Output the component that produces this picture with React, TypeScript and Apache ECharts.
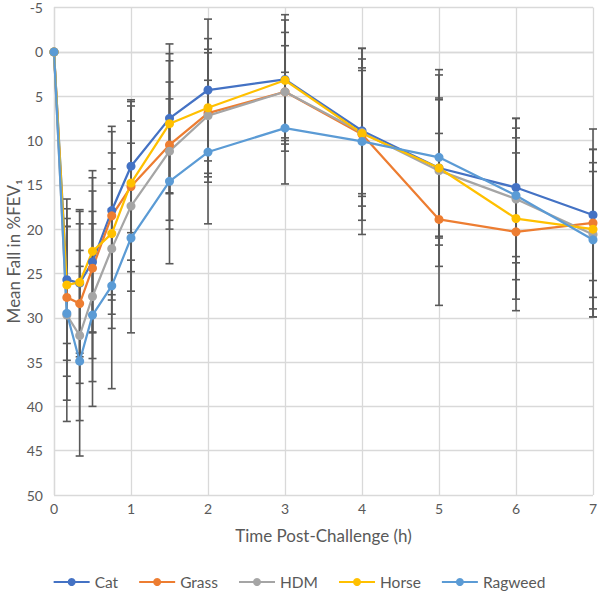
import React, { useEffect, useRef } from "react";
import * as echarts from "echarts";

const times = [0, 1 / 6, 1 / 3, 0.5, 0.75, 1, 1.5, 2, 3, 4, 5, 6, 7];
const seriesNames = ["Cat", "Grass", "HDM", "Horse", "Ragweed"];
const colors = ["#4472C4", "#ED7D31", "#A5A5A5", "#FFC000", "#5B9BD5"];

const catValues = [0, 25.7, 26.1, 23.7, 17.9, 12.9, 7.5, 4.3, 3.1, 8.9, 13.1, 15.3, 18.4];
const grassValues = [0, 27.7, 28.4, 24.4, 18.5, 15.2, 10.5, 6.9, 4.5, 9.3, 18.9, 20.3, 19.3];
const hdmValues = [0, 29.7, 32.0, 27.6, 22.2, 17.4, 11.2, 7.2, 4.5, 9.1, 13.4, 16.6, 20.6];
const horseValues = [0, 26.3, 26.0, 22.5, 20.5, 14.8, 8.1, 6.3, 3.2, 9.2, 13.1, 18.8, 20.0];
const ragweedValues = [0, 29.5, 34.9, 29.7, 26.4, 21.0, 14.6, 11.3, 8.6, 10.1, 11.9, 16.2, 21.2];

const catErrors = [0, 9.1, 8.3, 8.0, 9.5, 7.5, 8.4, 8.0, 7.3, 7.1, 7.9, 7.8, 7.4];
const grassErrors = [0, 8.9, 9.0, 10.2, 9.5, 9.6, 9.5, 6.8, 6.7, 9.7, 9.7, 8.9, 10.6];
const hdmErrors = [0, 12.0, 9.6, 9.6, 9.0, 9.6, 7.8, 7.5, 5.2, 8.3, 10.8, 9.1, 7.1];
const horseErrors = [0, 6.6, 8.0, 9.1, 9.1, 8.7, 7.9, 7.8, 6.8, 7.1, 7.7, 9.1, 9.0];
const ragweedErrors = [0, 9.8, 10.7, 10.3, 11.6, 10.7, 9.3, 8.1, 6.3, 10.5, 9.9, 7.6, 8.7];

const yTicks = { min: -5, max: 50, interval: 5 };
const xTicks = { min: 0, max: 7, interval: 1 };

const allValues = [catValues, grassValues, hdmValues, horseValues, ragweedValues];
const allErrors = [catErrors, grassErrors, hdmErrors, horseErrors, ragweedErrors];

const FONT = "Lato, 'Open Sans', sans-serif";

export default function App() {
  const ref = useRef<HTMLDivElement>(null);
  useEffect(() => {
    if (!ref.current) return;
    const chart = echarts.init(ref.current, undefined, { renderer: "svg" });

    const errStyle = { stroke: "#595959", lineWidth: 1.6 };
    const errorSeries = seriesNames.map((name, si) => ({
      name: name + " error",
      type: "custom",
      z: 1,
      clip: false,
      silent: true,
      encode: { x: 0, y: [1, 2] },
      data: times
        .map((t, i) => [t, allValues[si][i] - allErrors[si][i], allValues[si][i] + allErrors[si][i], allErrors[si][i]])
        .filter((d) => d[3] > 0),
      renderItem: (params: any, api: any) => {
        const x = api.value(0);
        const p1 = api.coord([x, api.value(1)]);
        const p2 = api.coord([x, api.value(2)]);
        const w = 4;
        return {
          type: "group",
          children: [
            { type: "line", shape: { x1: p1[0], y1: p1[1], x2: p2[0], y2: p2[1] }, style: errStyle },
            { type: "line", shape: { x1: p1[0] - w, y1: p1[1], x2: p1[0] + w, y2: p1[1] }, style: errStyle },
            { type: "line", shape: { x1: p2[0] - w, y1: p2[1], x2: p2[0] + w, y2: p2[1] }, style: errStyle },
          ],
        };
      },
    }));

    const lineSeries = seriesNames.map((name, si) => ({
      name,
      type: "line",
      z: 3,
      data: times.map((t, i) => [t, allValues[si][i]]),
      symbol: "circle",
      symbolSize: 9,
      lineStyle: { width: 2.25, color: colors[si] },
      itemStyle: { color: colors[si] },
    }));

    chart.setOption({
      animation: false,
      backgroundColor: "#ffffff",
      textStyle: { fontFamily: FONT },
      grid: { left: 54, right: 5, top: 7.6, bottom: 96, containLabel: false, outerBoundsMode: "none" },
      legend: {
        data: seriesNames.map((n) => ({ name: n })),
        left: "center",
        top: 569,
        itemWidth: 36,
        itemHeight: 10,
        itemGap: 20,
        textStyle: { fontFamily: FONT, fontSize: 15.5, color: "#595959" },
      },
      xAxis: {
        type: "value",
        min: xTicks.min,
        max: xTicks.max,
        interval: xTicks.interval,
        name: "Time Post-Challenge (h)",
        nameLocation: "middle",
        nameGap: 32,
        nameMoveOverlap: false,
        nameTextStyle: { fontFamily: FONT, fontSize: 17, color: "#595959" },
        axisLine: { show: true, lineStyle: { color: "#d9d9d9", width: 1.3 } },
        axisTick: { show: false },
        axisLabel: { fontFamily: FONT, fontSize: 14, color: "#595959", margin: 6 },
        splitLine: { show: true, lineStyle: { color: "#d9d9d9", width: 1.3 } },
      },
      yAxis: {
        type: "value",
        inverse: true,
        min: yTicks.min,
        max: yTicks.max,
        interval: yTicks.interval,
        name: "Mean Fall in %FEV₁",
        nameLocation: "middle",
        nameGap: 32,
        nameMoveOverlap: false,
        nameTextStyle: { fontFamily: FONT, fontSize: 17, color: "#595959" },
        axisLine: { show: true, lineStyle: { color: "#d9d9d9", width: 1.3 } },
        axisTick: { show: false },
        axisLabel: { fontFamily: FONT, fontSize: 14, color: "#595959", margin: 11 },
        splitLine: { show: true, lineStyle: { color: "#d9d9d9", width: 1.3 } },
      },
      series: [...errorSeries, ...lineSeries],
    });
    return () => chart.dispose();
  }, []);
  return (
    <div
      ref={ref}
      style={{ position: "fixed", left: 0, top: 0, width: 598, height: 591, background: "#fff" }}
    />
  );
}
